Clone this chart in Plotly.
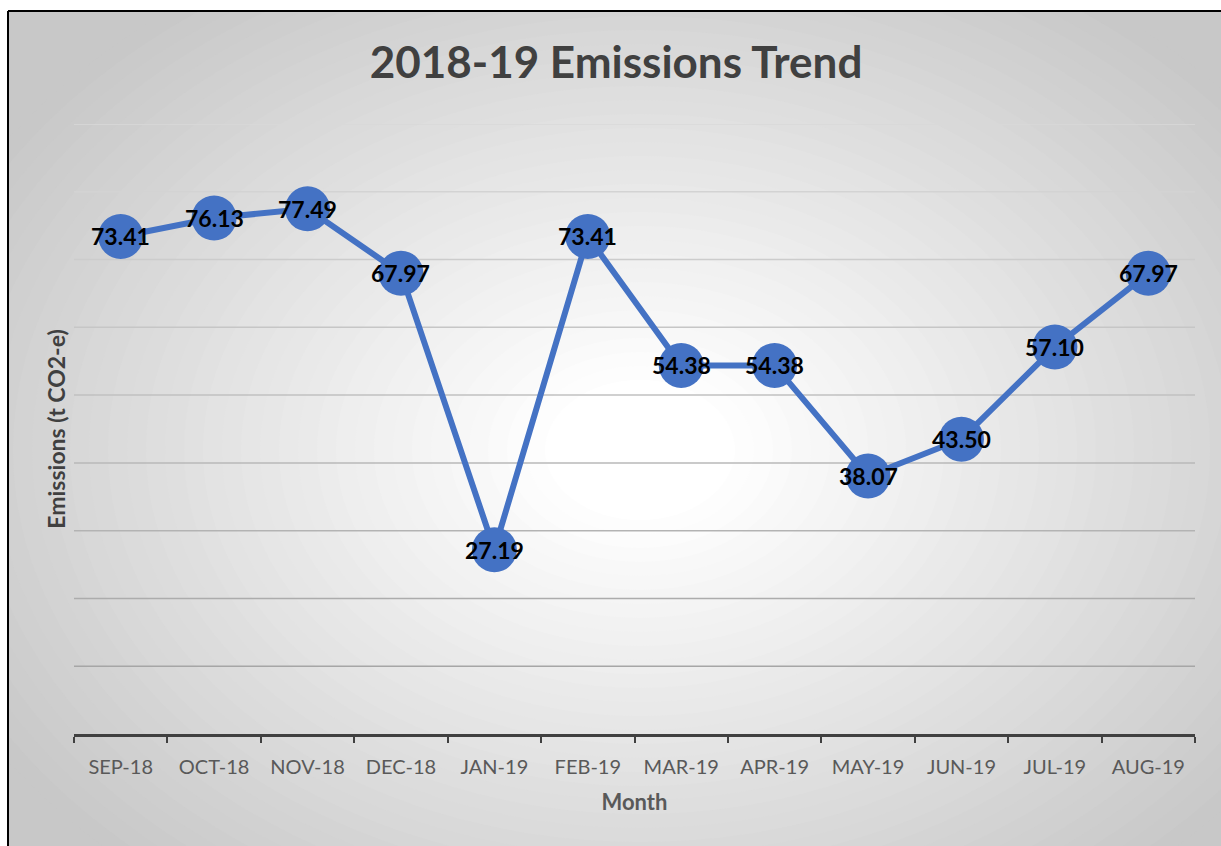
import plotly.graph_objects as go

months = ["SEP-18", "OCT-18", "NOV-18", "DEC-18", "JAN-19", "FEB-19",
          "MAR-19", "APR-19", "MAY-19", "JUN-19", "JUL-19", "AUG-19"]
emissions = [73.41, 76.13, 77.49, 67.97, 27.19, 73.41,
             54.38, 54.38, 38.07, 43.50, 57.10, 67.97]
grid_values = [10, 20, 30, 40, 50, 60, 70, 80, 90]

W, H = 1221, 846
ML, MR, MT, MB = 74, 26, 124, 112
FONT = "Lato"

fig = go.Figure()
fig.add_trace(go.Scatter(
    x=months, y=emissions, mode="lines+markers",
    line=dict(color="#4472C4", width=6),
    marker=dict(size=45, color="#4472C4"),
    hoverinfo="skip", showlegend=False,
))

annotations = [
    dict(x=m, y=v, xref="x", yref="y", text=f"{v:.2f}", showarrow=False,
         xanchor="center", yanchor="middle", yshift=0,
         font=dict(family=FONT, size=23, color="#000000", weight="bold"))
    for m, v in zip(months, emissions)
]

shapes = []
plot_w = W - ML - MR
plot_h = H - MT - MB
def px_to_paper_x(px):
    return (px - ML) / plot_w
def px_to_paper_y(py):
    return 1 - (py - MT) / plot_h

shapes.append(dict(type="rect", xref="paper", yref="paper",
                   x0=px_to_paper_x(8), x1=px_to_paper_x(W + 20),
                   y0=px_to_paper_y(H + 20), y1=px_to_paper_y(11),
                   fillcolor="rgb(200,200,200)", line=dict(width=0), layer="below"))
cx, cy = 640, 450
rx, ry = 760, 560
N = 40
for i in range(N):
    t = 1 - i / N
    g = 255 - (255 - 200) * max(0.0, (t - 0.12) / 0.88)
    g = int(round(g))
    shapes.append(dict(type="circle", xref="paper", yref="paper",
                       x0=px_to_paper_x(cx - rx * t), x1=px_to_paper_x(cx + rx * t),
                       y0=px_to_paper_y(cy + ry * t), y1=px_to_paper_y(cy - ry * t),
                       fillcolor=f"rgb({g},{g},{g})", line=dict(width=0), layer="below"))
shapes.append(dict(type="rect", xref="paper", yref="paper",
                   x0=px_to_paper_x(-5), x1=px_to_paper_x(8),
                   y0=px_to_paper_y(H + 5), y1=px_to_paper_y(-5),
                   fillcolor="white", line=dict(width=0), layer="below"))
shapes.append(dict(type="rect", xref="paper", yref="paper",
                   x0=px_to_paper_x(-5), x1=px_to_paper_x(W + 5),
                   y0=px_to_paper_y(11), y1=px_to_paper_y(-5),
                   fillcolor="white", line=dict(width=0), layer="below"))
shapes.append(dict(type="line", xref="paper", yref="paper",
                   x0=px_to_paper_x(8), x1=px_to_paper_x(8),
                   y0=px_to_paper_y(H + 5), y1=px_to_paper_y(11),
                   line=dict(color="#000000", width=2), layer="below"))
shapes.append(dict(type="line", xref="paper", yref="paper",
                   x0=px_to_paper_x(8), x1=px_to_paper_x(W + 5),
                   y0=px_to_paper_y(11), y1=px_to_paper_y(11),
                   line=dict(color="#000000", width=2), layer="below"))
for v in grid_values:
    f = (v - 10) / 80
    g = int(round(166 + (217 - 166) * f))
    shapes.append(dict(type="line", xref="x domain", yref="y",
                       x0=0, x1=1, y0=v, y1=v,
                       line=dict(color=f"rgb({g},{g},{g})", width=1.5), layer="below"))

fig.update_layout(
    width=W, height=H,
    margin=dict(l=ML, r=MR, t=MT, b=MB),
    paper_bgcolor="white", plot_bgcolor="rgba(0,0,0,0)",
    shapes=shapes,
    annotations=annotations,
    title=dict(text="2018-19 Emissions Trend", x=616 / W, xanchor="center",
               y=1 - 63 / H, yanchor="middle",
               font=dict(family=FONT, size=44, color="#404040", weight="bold")),
    xaxis=dict(type="category", range=[-0.5, 11.5], tickson="boundaries",
               showgrid=False, showline=True, linecolor="#404040", linewidth=3,
               ticks="outside", ticklen=6, tickwidth=2, tickcolor="#404040",
               ticklabelstandoff=13,
               tickfont=dict(family=FONT, size=20, color="#595959"),
               title=dict(text="Month", standoff=18,
                          font=dict(family=FONT, size=22, color="#595959", weight="bold"))),
    yaxis=dict(range=[0, 90], showgrid=False, showticklabels=False, zeroline=False,
               showline=False, ticks="",
               title=dict(text="Emissions (t CO2-e)", standoff=0,
                          font=dict(family=FONT, size=23, color="#404040", weight="bold"))),
    font=dict(family=FONT),
)

fig.write_html("out.html")
